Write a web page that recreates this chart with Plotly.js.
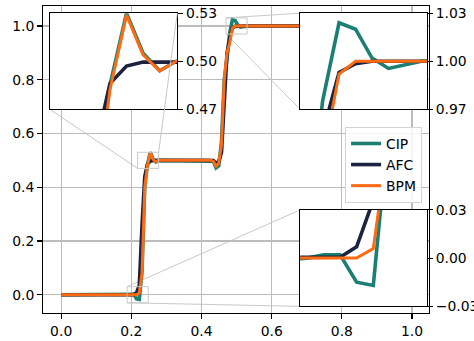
<!DOCTYPE html>
<html>
<head>
<meta charset="utf-8">
<script src="https://cdn.plot.ly/plotly-3.0.1.min.js"></script>
<style>
  html, body { margin: 0; padding: 0; background: #ffffff; }
  #chart { width: 474px; height: 341px; }
</style>
</head>
<body>
<div id="chart"></div>
<script>
// Grid nodes where any of the three solutions changes; the flat stretches
// between them are straight segments.
const xs = [
  0.0,
  0.1680, 0.1758, 0.1836, 0.1914, 0.1992, 0.2070, 0.2148, 0.2227, 0.2305,
  0.2383, 0.2461, 0.2539, 0.2617, 0.2695, 0.2773, 0.2852,
  0.4180, 0.4258, 0.4336, 0.4414, 0.4492, 0.4570, 0.4648, 0.4727, 0.4805,
  0.4883, 0.4961, 0.5039, 0.5117, 0.5195, 0.5273, 0.5352, 0.5430,
  1.0
];

const cip = [
  0.0,
  0.0, 0.0, -0.001, 0.0, 0.002, 0.002, -0.015, -0.017, 0.09,
  0.41, 0.485, 0.530, 0.505, 0.494, 0.500, 0.5,
  0.5, 0.5, 0.497, 0.472, 0.480, 0.57, 0.80, 0.88, 0.975,
  1.024, 1.020, 1.002, 0.9955, 0.9977, 1.0, 1.0, 1.0,
  1.0
];

const afc = [
  0.0,
  0.0, 0.0, 0.0, 0.0, 0.0, 0.0005, 0.007, 0.036, 0.26,
  0.44, 0.486, 0.497, 0.4995, 0.5, 0.5, 0.5,
  0.5, 0.5, 0.499, 0.490, 0.495, 0.53, 0.72, 0.90, 0.955,
  0.993, 0.9985, 1.0, 1.0, 1.0, 1.0, 1.0, 1.0,
  1.0
];

const bpm = [
  0.0,
  0.0, 0.0, 0.0, 0.0, 0.0, 0.0, 0.0, 0.006, 0.08,
  0.40, 0.482, 0.529, 0.504, 0.494, 0.500, 0.5,
  0.5, 0.5, 0.497, 0.478, 0.490, 0.56, 0.80, 0.90, 0.938,
  0.992, 1.0, 1.0, 1.0, 1.0, 1.0, 1.0, 1.0,
  1.0
];

const seriesNames = ['CIP', 'AFC', 'BPM'];
const seriesData = [cip, afc, bpm];
const seriesColors = ['#1b7f73', '#1c2340', '#ff6b12'];
const seriesWidths = [3.6, 3.6, 3.0];

// Main axes
const mainXRange = [-0.0518, 1.0484];
const mainYRange = [-0.068, 1.0743];
const mainTicks = [0, 0.2, 0.4, 0.6, 0.8, 1.0];

// Zoomed windows
const zoomXRanges = [[0.2178, 0.2778], [0.4699, 0.5299], [0.1881, 0.2481]];
const zoomYRanges = [[0.47, 0.53], [0.97, 1.03], [-0.03, 0.03]];
const zoomYTicks = [[0.47, 0.50, 0.53], [0.97, 1.00, 1.03], [-0.03, 0.00, 0.03]];

// Where each zoom window sits on the page (paper fractions) and which
// corners get a connector back to its marked region.
const zoomDomains = [
  {x: [0.0176, 0.3479], y: [0.6637, 0.9765]},
  {x: [0.6662, 0.9948], y: [0.6637, 0.9765]},
  {x: [0.6662, 0.9948], y: [0.0216, 0.3360]}
];
const zoomLinks = [
  [['l', 'b', 'below'], ['r', 't', 'above']],
  [['l', 'b', 'below'], ['l', 't', 'below']],
  [['l', 'b', 'below'], ['l', 't', 'below']]
];

const FONT = {family: 'DejaVu Sans, sans-serif', size: 13.9, color: '#000000'};
const SPINE = '#000000';
const MARK = '#c9c9c9';

const traces = [];
const subplots = [['x', 'y']].concat(zoomXRanges.map((_, k) => ['x' + (k + 2), 'y' + (k + 2)]));
subplots.forEach(([xa, ya], s) => {
  seriesNames.forEach((name, i) => {
    traces.push({
      type: 'scatter',
      mode: 'lines',
      name: name,
      x: xs,
      y: seriesData[i],
      xaxis: xa,
      yaxis: ya,
      line: {color: seriesColors[i], width: seriesWidths[i]},
      showlegend: s === 0,
      hoverinfo: 'skip'
    });
  });
});

const layout = {
  width: 474,
  height: 341,
  margin: {l: 42.5, r: 45, t: 6, b: 27.7, pad: 0},
  paper_bgcolor: '#ffffff',
  plot_bgcolor: '#ffffff',
  font: FONT,
  showlegend: true,
  legend: {
    x: 0.982, xanchor: 'right',
    y: 0.606, yanchor: 'top',
    bgcolor: 'rgba(255,255,255,0.85)',
    bordercolor: '#d4d4d4',
    borderwidth: 1,
    font: FONT,
    itemwidth: 30,
    tracegroupgap: 0
  },
  xaxis: {
    range: mainXRange,
    tickvals: mainTicks,
    tickformat: '.1f',
    ticks: 'outside', ticklen: 4.9, tickwidth: 1.1, tickcolor: SPINE,
    showgrid: true, gridcolor: '#bcbcbc', gridwidth: 1.1,
    zeroline: false,
    showline: true, mirror: true, linecolor: SPINE, linewidth: 1.1,
    tickfont: FONT
  },
  yaxis: {
    range: mainYRange,
    tickvals: mainTicks,
    tickformat: '.1f',
    ticks: 'outside', ticklen: 4.9, tickwidth: 1.1, tickcolor: SPINE,
    showgrid: true, gridcolor: '#bcbcbc', gridwidth: 1.1,
    zeroline: false,
    showline: true, mirror: true, linecolor: SPINE, linewidth: 1.1,
    tickfont: FONT
  },
  shapes: []
};

zoomXRanges.forEach((xr, k) => {
  const n = k + 2;
  const yr = zoomYRanges[k];
  const dom = zoomDomains[k];
  layout['xaxis' + n] = {
    domain: dom.x, anchor: 'y' + n, range: xr,
    showticklabels: false, ticks: '',
    showgrid: false, zeroline: false,
    showline: true, mirror: true, linecolor: SPINE, linewidth: 1.1
  };
  layout['yaxis' + n] = {
    domain: dom.y, anchor: 'x' + n, range: yr, side: 'right',
    tickvals: zoomYTicks[k], tickformat: '.2f',
    ticks: 'outside', ticklen: 4.9, tickwidth: 1.1, tickcolor: SPINE,
    showgrid: false, zeroline: false,
    showline: true, mirror: true, linecolor: SPINE, linewidth: 1.1,
    tickfont: FONT
  };

  // marked region in the main axes
  layout.shapes.push({
    type: 'rect', xref: 'x', yref: 'y', layer: 'above',
    x0: xr[0], x1: xr[1], y0: yr[0], y1: yr[1],
    line: {color: MARK, width: 1}, fillcolor: 'rgba(0,0,0,0)'
  });

  // connectors from the marked region to the zoom window corners
  const toPaperX = v => (v - mainXRange[0]) / (mainXRange[1] - mainXRange[0]);
  const toPaperY = v => (v - mainYRange[0]) / (mainYRange[1] - mainYRange[0]);
  zoomLinks[k].forEach(([h, v, layer]) => {
    const rx = toPaperX(h === 'l' ? xr[0] : xr[1]);
    const ry = toPaperY(v === 'b' ? yr[0] : yr[1]);
    const ix = h === 'l' ? dom.x[0] : dom.x[1];
    const iy = v === 'b' ? dom.y[0] : dom.y[1];
    layout.shapes.push({
      type: 'line', xref: 'paper', yref: 'paper', layer: layer,
      x0: rx, y0: ry, x1: ix, y1: iy,
      line: {color: MARK, width: 1}
    });
  });
});

Plotly.newPlot('chart', traces, layout, {staticPlot: true, displayModeBar: false});
</script>
</body>
</html>
